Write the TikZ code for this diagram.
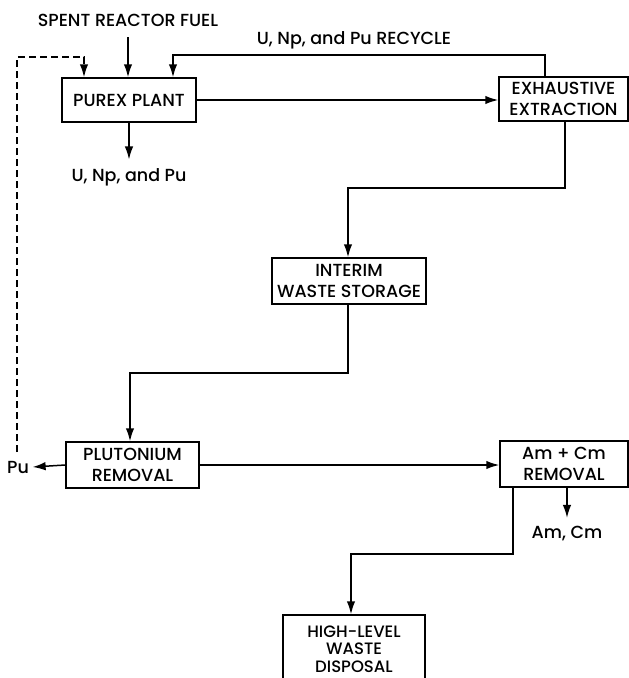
\documentclass[tikz,border=0pt]{standalone}
\usepackage{fontspec}
\setmainfont{Poppins}[BoldFont={* Medium}]
\usetikzlibrary{arrows.meta,calc}
\begin{document}
\begin{tikzpicture}[x=1pt,y=-1pt,
  line width=1.5pt,
  arr/.style={-{Latex[length=13pt,width=8.5pt]}},
  box/.style={draw,rectangle,inner sep=0pt,align=center,font=\fontsize{17.5}{21}\bfseries},
  lbl/.style={inner sep=0pt,font=\fontsize{17.5}{21}\bfseries}]
\useasboundingbox (0,0) rectangle (629,678);
% boxes
\node[box,minimum width=134pt,minimum height=44pt] (purex) at (129,100) {PUREX PLANT};
\node[box,minimum width=129pt,minimum height=44pt] (exh) at (563.5,99) {EXHAUSTIVE\\EXTRACTION};
\node[box,minimum width=154pt,minimum height=46pt] (interim) at (349,281) {INTERIM\\WASTE STORAGE};
\node[box,minimum width=133pt,minimum height=46pt] (plut) at (132.5,465) {PLUTONIUM\\REMOVAL};
\node[box,minimum width=128pt,minimum height=46pt] (amcm) at (564,464) {Am + Cm\\REMOVAL};
\node[box,minimum width=142pt,minimum height=68pt,font=\fontsize{16.5}{17.5}\bfseries] (hlw) at (354,649) {HIGH-LEVEL\\WASTE\\DISPOSAL};
% labels
\node[lbl] (fuel) at (128,20) {SPENT REACTOR FUEL};
\node[lbl] (rec) at (354,40) {U, Np, and Pu RECYCLE};
\node[lbl] (out1) at (129,177) {U, Np, and Pu};
\node[lbl] (pu) at (18,467) {Pu};
\node[lbl] (out2) at (567,534) {Am, Cm};
% coordinates
\coordinate (f1) at (128,37);
\coordinate (r1) at (545,55);
\coordinate (r2) at (173,55);
\coordinate (d0) at (17,452);
\coordinate (d1) at (17,57);
\coordinate (d2) at (84,57);
\coordinate (e1) at (565,188);
\coordinate (e2) at (348,188);
\coordinate (i1) at (348,373);
\coordinate (i2) at (130,373);
\coordinate (a1) at (513,554);
\coordinate (a2) at (351,554);
% connectors
\draw[arr] (f1) -- (f1 |- purex.north);
\draw[arr] (r1 |- exh.north) -- (r1) -- (r2) -- (r2 |- purex.north);
\draw[arr,dashed,dash pattern=on 7pt off 4pt] (d0) -- (d1) -- (d2) -- (d2 |- purex.north);
\draw[arr] (purex.east) -- (purex.east -| exh.west);
\draw[arr] (purex.south) -- ([yshift=8pt]out1.north);
\draw[arr] (e1 |- exh.south) -- (e1) -- (e2) -- (e2 |- interim.north);
\draw[arr] (i1 |- interim.south) -- (i1) -- (i2) -- (i2 |- plut.north);
\draw[arr] (plut.west) -- ([xshift=3pt]pu.east);
\draw[arr] (plut.east) -- (plut.east -| amcm.west);
\draw[arr] (amcm.south -| out2) -- ([yshift=8pt]out2.north);
\draw[arr] (a1 |- amcm.south) -- (a1) -- (a2) -- (a2 |- hlw.north);
\end{tikzpicture}
\end{document}
